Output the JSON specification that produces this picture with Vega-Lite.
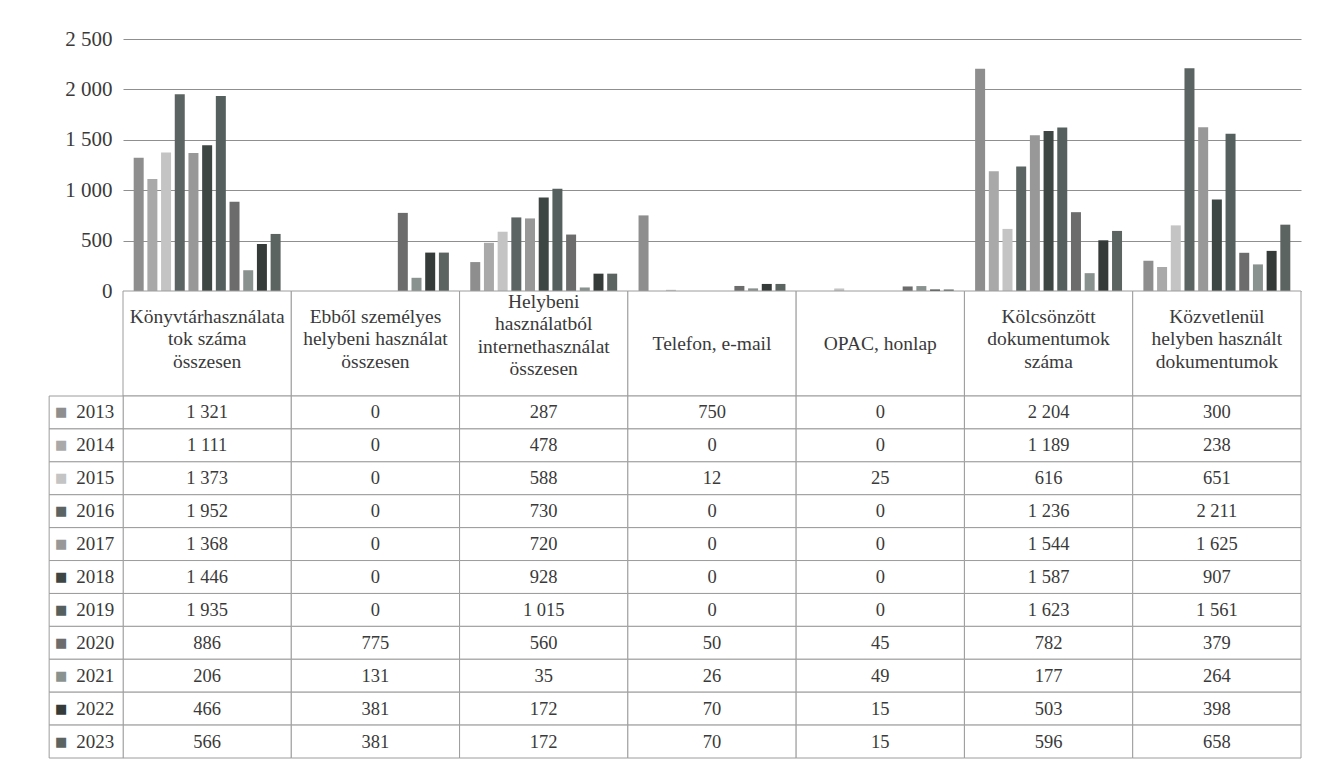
{
  "$schema": "https://vega.github.io/schema/vega-lite/v6.json",
  "padding": {"left": 48, "top": 28, "right": 8, "bottom": 4},
  "background": "white",
  "spacing": 0,
  "bounds": "flush",
  "config": {
    "locale": {"number": {"decimal": ",", "thousands": " ", "grouping": [3], "currency": ["", ""]}},
    "view": {"stroke": null},
    "font": "Liberation Serif"
  },
  "datasets": {
    "fejlec": [
      {"kat": "Könyvtárhasználatok száma összesen", "cimke": "Könyvtárhasználata\ntok száma\nösszesen", "sorok": 3},
      {"kat": "Ebből személyes helybeni használat összesen", "cimke": "Ebből személyes\nhelybeni használat\nösszesen", "sorok": 3},
      {"kat": "Helybeni használatból internethasználat összesen", "cimke": "Helybeni\nhasználatból\ninternethasználat\nösszesen", "sorok": 4},
      {"kat": "Telefon, e-mail", "cimke": "Telefon, e-mail", "sorok": 1},
      {"kat": "OPAC, honlap", "cimke": "OPAC, honlap", "sorok": 1},
      {"kat": "Kölcsönzött dokumentumok száma", "cimke": "Kölcsönzött\ndokumentumok\nszáma", "sorok": 3},
      {"kat": "Közvetlenül helyben használt dokumentumok", "cimke": "Közvetlenül\nhelyben használt\ndokumentumok", "sorok": 3}
    ],
    "evek": [
      {"ev": "2013"}, {"ev": "2014"}, {"ev": "2015"}, {"ev": "2016"}, {"ev": "2017"}, {"ev": "2018"},
      {"ev": "2019"}, {"ev": "2020"}, {"ev": "2021"}, {"ev": "2022"}, {"ev": "2023"}
    ],
    "adat": [
      {"ev": "2013", "kat": "Könyvtárhasználatok száma összesen", "ertek": 1321},
      {"ev": "2014", "kat": "Könyvtárhasználatok száma összesen", "ertek": 1111},
      {"ev": "2015", "kat": "Könyvtárhasználatok száma összesen", "ertek": 1373},
      {"ev": "2016", "kat": "Könyvtárhasználatok száma összesen", "ertek": 1952},
      {"ev": "2017", "kat": "Könyvtárhasználatok száma összesen", "ertek": 1368},
      {"ev": "2018", "kat": "Könyvtárhasználatok száma összesen", "ertek": 1446},
      {"ev": "2019", "kat": "Könyvtárhasználatok száma összesen", "ertek": 1935},
      {"ev": "2020", "kat": "Könyvtárhasználatok száma összesen", "ertek": 886},
      {"ev": "2021", "kat": "Könyvtárhasználatok száma összesen", "ertek": 206},
      {"ev": "2022", "kat": "Könyvtárhasználatok száma összesen", "ertek": 466},
      {"ev": "2023", "kat": "Könyvtárhasználatok száma összesen", "ertek": 566},
      {"ev": "2013", "kat": "Ebből személyes helybeni használat összesen", "ertek": 0},
      {"ev": "2014", "kat": "Ebből személyes helybeni használat összesen", "ertek": 0},
      {"ev": "2015", "kat": "Ebből személyes helybeni használat összesen", "ertek": 0},
      {"ev": "2016", "kat": "Ebből személyes helybeni használat összesen", "ertek": 0},
      {"ev": "2017", "kat": "Ebből személyes helybeni használat összesen", "ertek": 0},
      {"ev": "2018", "kat": "Ebből személyes helybeni használat összesen", "ertek": 0},
      {"ev": "2019", "kat": "Ebből személyes helybeni használat összesen", "ertek": 0},
      {"ev": "2020", "kat": "Ebből személyes helybeni használat összesen", "ertek": 775},
      {"ev": "2021", "kat": "Ebből személyes helybeni használat összesen", "ertek": 131},
      {"ev": "2022", "kat": "Ebből személyes helybeni használat összesen", "ertek": 381},
      {"ev": "2023", "kat": "Ebből személyes helybeni használat összesen", "ertek": 381},
      {"ev": "2013", "kat": "Helybeni használatból internethasználat összesen", "ertek": 287},
      {"ev": "2014", "kat": "Helybeni használatból internethasználat összesen", "ertek": 478},
      {"ev": "2015", "kat": "Helybeni használatból internethasználat összesen", "ertek": 588},
      {"ev": "2016", "kat": "Helybeni használatból internethasználat összesen", "ertek": 730},
      {"ev": "2017", "kat": "Helybeni használatból internethasználat összesen", "ertek": 720},
      {"ev": "2018", "kat": "Helybeni használatból internethasználat összesen", "ertek": 928},
      {"ev": "2019", "kat": "Helybeni használatból internethasználat összesen", "ertek": 1015},
      {"ev": "2020", "kat": "Helybeni használatból internethasználat összesen", "ertek": 560},
      {"ev": "2021", "kat": "Helybeni használatból internethasználat összesen", "ertek": 35},
      {"ev": "2022", "kat": "Helybeni használatból internethasználat összesen", "ertek": 172},
      {"ev": "2023", "kat": "Helybeni használatból internethasználat összesen", "ertek": 172},
      {"ev": "2013", "kat": "Telefon, e-mail", "ertek": 750},
      {"ev": "2014", "kat": "Telefon, e-mail", "ertek": 0},
      {"ev": "2015", "kat": "Telefon, e-mail", "ertek": 12},
      {"ev": "2016", "kat": "Telefon, e-mail", "ertek": 0},
      {"ev": "2017", "kat": "Telefon, e-mail", "ertek": 0},
      {"ev": "2018", "kat": "Telefon, e-mail", "ertek": 0},
      {"ev": "2019", "kat": "Telefon, e-mail", "ertek": 0},
      {"ev": "2020", "kat": "Telefon, e-mail", "ertek": 50},
      {"ev": "2021", "kat": "Telefon, e-mail", "ertek": 26},
      {"ev": "2022", "kat": "Telefon, e-mail", "ertek": 70},
      {"ev": "2023", "kat": "Telefon, e-mail", "ertek": 70},
      {"ev": "2013", "kat": "OPAC, honlap", "ertek": 0},
      {"ev": "2014", "kat": "OPAC, honlap", "ertek": 0},
      {"ev": "2015", "kat": "OPAC, honlap", "ertek": 25},
      {"ev": "2016", "kat": "OPAC, honlap", "ertek": 0},
      {"ev": "2017", "kat": "OPAC, honlap", "ertek": 0},
      {"ev": "2018", "kat": "OPAC, honlap", "ertek": 0},
      {"ev": "2019", "kat": "OPAC, honlap", "ertek": 0},
      {"ev": "2020", "kat": "OPAC, honlap", "ertek": 45},
      {"ev": "2021", "kat": "OPAC, honlap", "ertek": 49},
      {"ev": "2022", "kat": "OPAC, honlap", "ertek": 15},
      {"ev": "2023", "kat": "OPAC, honlap", "ertek": 15},
      {"ev": "2013", "kat": "Kölcsönzött dokumentumok száma", "ertek": 2204},
      {"ev": "2014", "kat": "Kölcsönzött dokumentumok száma", "ertek": 1189},
      {"ev": "2015", "kat": "Kölcsönzött dokumentumok száma", "ertek": 616},
      {"ev": "2016", "kat": "Kölcsönzött dokumentumok száma", "ertek": 1236},
      {"ev": "2017", "kat": "Kölcsönzött dokumentumok száma", "ertek": 1544},
      {"ev": "2018", "kat": "Kölcsönzött dokumentumok száma", "ertek": 1587},
      {"ev": "2019", "kat": "Kölcsönzött dokumentumok száma", "ertek": 1623},
      {"ev": "2020", "kat": "Kölcsönzött dokumentumok száma", "ertek": 782},
      {"ev": "2021", "kat": "Kölcsönzött dokumentumok száma", "ertek": 177},
      {"ev": "2022", "kat": "Kölcsönzött dokumentumok száma", "ertek": 503},
      {"ev": "2023", "kat": "Kölcsönzött dokumentumok száma", "ertek": 596},
      {"ev": "2013", "kat": "Közvetlenül helyben használt dokumentumok", "ertek": 300},
      {"ev": "2014", "kat": "Közvetlenül helyben használt dokumentumok", "ertek": 238},
      {"ev": "2015", "kat": "Közvetlenül helyben használt dokumentumok", "ertek": 651},
      {"ev": "2016", "kat": "Közvetlenül helyben használt dokumentumok", "ertek": 2211},
      {"ev": "2017", "kat": "Közvetlenül helyben használt dokumentumok", "ertek": 1625},
      {"ev": "2018", "kat": "Közvetlenül helyben használt dokumentumok", "ertek": 907},
      {"ev": "2019", "kat": "Közvetlenül helyben használt dokumentumok", "ertek": 1561},
      {"ev": "2020", "kat": "Közvetlenül helyben használt dokumentumok", "ertek": 379},
      {"ev": "2021", "kat": "Közvetlenül helyben használt dokumentumok", "ertek": 264},
      {"ev": "2022", "kat": "Közvetlenül helyben használt dokumentumok", "ertek": 398},
      {"ev": "2023", "kat": "Közvetlenül helyben használt dokumentumok", "ertek": 658}
    ]
  },
  "vconcat": [
    {
      "width": 1178,
      "height": 252,
      "data": {"name": "adat"},
      "mark": {"type": "bar"},
      "encoding": {
        "x": {
          "field": "kat", "type": "nominal",
          "scale": {"domain": ["Könyvtárhasználatok száma összesen", "Ebből személyes helybeni használat összesen", "Helybeni használatból internethasználat összesen", "Telefon, e-mail", "OPAC, honlap", "Kölcsönzött dokumentumok száma", "Közvetlenül helyben használt dokumentumok"], "paddingInner": 0, "paddingOuter": 0},
          "axis": null
        },
        "xOffset": {"field": "ev", "type": "nominal", "scale": {"paddingInner": 0.27, "paddingOuter": 0.78}},
        "y": {
          "field": "ertek", "type": "quantitative",
          "scale": {"domain": [0, 2500]},
          "axis": {"values": [0, 500, 1000, 1500, 2000, 2500], "format": ",d", "title": null, "domain": false, "ticks": false, "labelFontSize": 21, "labelColor": "#3a3a3a", "labelPadding": 11, "gridColor": "#8f8f8f", "minExtent": 74, "maxExtent": 74, "labelFont": "Liberation Serif"}
        },
        "color": {
          "field": "ev", "type": "nominal",
          "scale": {"domain": ["2013", "2014", "2015", "2016", "2017", "2018", "2019", "2020", "2021", "2022", "2023"], "range": ["#8e8e8e", "#a9a9a9", "#c4c4c4", "#5b6462", "#989898", "#3e4644", "#55605e", "#6c6c6c", "#8a9290", "#343b39", "#5c6462"]},
          "legend": null
        }
      }
    },
    {
      "width": 1178,
      "height": 105,
      "data": {"name": "fejlec"},
      "encoding": {
        "x": {
          "field": "kat", "type": "nominal",
          "scale": {"domain": ["Könyvtárhasználatok száma összesen", "Ebből személyes helybeni használat összesen", "Helybeni használatból internethasználat összesen", "Telefon, e-mail", "OPAC, honlap", "Kölcsönzött dokumentumok száma", "Közvetlenül helyben használt dokumentumok"], "paddingInner": 0, "paddingOuter": 0},
          "axis": null
        },
        "y": {"datum": "h", "type": "nominal", "scale": {"paddingInner": 0, "paddingOuter": 0}, "axis": {"labels": false, "ticks": false, "domain": false, "grid": false, "title": null, "minExtent": 74, "maxExtent": 74}}
      },
      "layer": [
        {"mark": {"type": "rect", "fill": "white", "stroke": "#9c9c9c", "strokeWidth": 1}},
        {"transform": [{"filter": "datum.sorok == 1"}], "mark": {"type": "text", "lineBreak": "\n", "fontSize": 19.5, "lineHeight": 22, "color": "#3a3a3a", "font": "Liberation Serif", "dy": 0}, "encoding": {"text": {"field": "cimke"}}},
        {"transform": [{"filter": "datum.sorok == 3"}], "mark": {"type": "text", "lineBreak": "\n", "fontSize": 19.5, "lineHeight": 22.5, "color": "#3a3a3a", "font": "Liberation Serif", "dy": -27}, "encoding": {"text": {"field": "cimke"}}},
        {"transform": [{"filter": "datum.sorok == 4"}], "mark": {"type": "text", "lineBreak": "\n", "fontSize": 19.5, "lineHeight": 22.5, "color": "#3a3a3a", "font": "Liberation Serif", "dy": -42}, "encoding": {"text": {"field": "cimke"}}}
      ]
    },
    {
      "width": 1178,
      "height": 362,
      "layer": [
        {
          "data": {"name": "adat"},
          "mark": {"type": "rect", "fill": "white", "stroke": "#9c9c9c", "strokeWidth": 1},
          "encoding": {
            "x": {"field": "kat", "type": "nominal", "scale": {"domain": ["Könyvtárhasználatok száma összesen", "Ebből személyes helybeni használat összesen", "Helybeni használatból internethasználat összesen", "Telefon, e-mail", "OPAC, honlap", "Kölcsönzött dokumentumok száma", "Közvetlenül helyben használt dokumentumok"], "paddingInner": 0, "paddingOuter": 0}, "axis": null},
            "y": {"field": "ev", "type": "nominal", "scale": {"domain": ["2013", "2014", "2015", "2016", "2017", "2018", "2019", "2020", "2021", "2022", "2023"], "paddingInner": 0, "paddingOuter": 0}, "axis": null}
          }
        },
        {
          "data": {"name": "adat"},
          "mark": {"type": "text", "fontSize": 18.5, "color": "#3a3a3a", "font": "Liberation Serif"},
          "encoding": {
            "x": {"field": "kat", "type": "nominal"},
            "y": {"field": "ev", "type": "nominal"},
            "text": {"field": "ertek", "type": "quantitative", "format": ",d"}
          }
        },
        {
          "data": {"name": "evek"},
          "mark": {"type": "rect", "width": 74, "xOffset": -121, "fill": "white", "stroke": "#9c9c9c", "strokeWidth": 1, "clip": false},
          "encoding": {
            "x": {"datum": "Könyvtárhasználatok száma összesen", "type": "nominal"},
            "y": {"field": "ev", "type": "nominal"}
          }
        },
        {
          "data": {"name": "evek"},
          "mark": {"type": "text", "align": "right", "dx": -93, "fontSize": 19, "color": "#3a3a3a", "font": "Liberation Serif"},
          "encoding": {
            "x": {"datum": "Könyvtárhasználatok száma összesen", "type": "nominal"},
            "y": {"field": "ev", "type": "nominal"},
            "text": {"field": "ev"}
          }
        },
        {
          "data": {"name": "evek"},
          "mark": {"type": "text", "text": "■", "dx": -146, "fontSize": 13, "font": "DejaVu Sans"},
          "encoding": {
            "x": {"datum": "Könyvtárhasználatok száma összesen", "type": "nominal"},
            "y": {"field": "ev", "type": "nominal"},
            "color": {"field": "ev", "type": "nominal", "scale": {"domain": ["2013", "2014", "2015", "2016", "2017", "2018", "2019", "2020", "2021", "2022", "2023"], "range": ["#8e8e8e", "#a9a9a9", "#c4c4c4", "#5b6462", "#989898", "#3e4644", "#55605e", "#6c6c6c", "#8a9290", "#343b39", "#5c6462"]}, "legend": null}
          }
        }
      ]
    }
  ]
}
